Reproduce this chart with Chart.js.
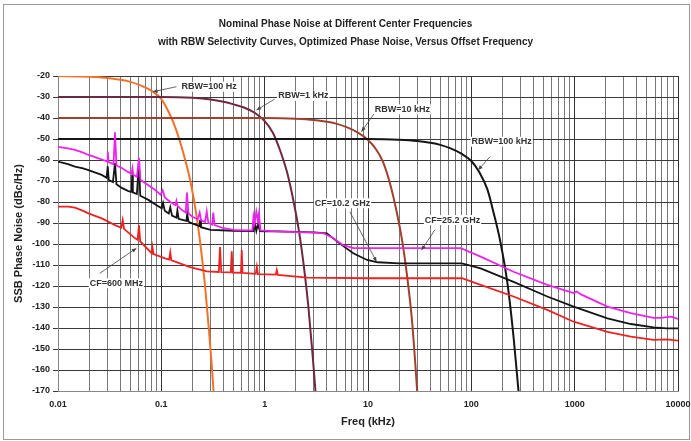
<!DOCTYPE html>
<html>
<head>
<meta charset="utf-8">
<script src="https://cdn.jsdelivr.net/npm/chart.js@4.4.1/dist/chart.umd.min.js"></script>
<style>
  html, body { margin: 0; padding: 0; background: #fff; }
  #wrap { width: 691px; height: 441px; }
</style>
</head>
<body>
<div id="wrap"><canvas id="pn" width="691" height="441"></canvas></div>
<script>
// ---- data (freq in kHz, level in dBc/Hz) ----
const titleLines = [
  "Nominal Phase Noise at Different Center Frequencies",
  "with RBW Selectivity Curves, Optimized Phase Noise, Versus Offset Frequency"
];

const xDecades = [0.01, 0.1, 1, 10, 100, 1000, 10000];
const xTickLabels = ["0.01", "0.1", "1", "10", "100", "1000", "10000"];
const yTicks = [-20, -30, -40, -50, -60, -70, -80, -90, -100, -110, -120, -130, -140, -150, -160, -170];

// RBW selectivity curves
const rbw100Hz = [[0.01,-20],[0.02,-20.3],[0.03,-20.9],[0.04,-21.8],[0.05,-22.8],[0.063,-24.5],[0.08,-27],
  [0.1,-31],[0.12,-38],[0.14,-46],[0.165,-57.5],[0.19,-69.5],[0.215,-84],[0.24,-101],[0.265,-120],
  [0.29,-142],[0.3,-151],[0.31,-160],[0.32,-170]];
const rbw1kHz = [[0.01,-30],[0.1,-30],[0.2,-30.4],[0.3,-31.2],[0.4,-32.3],[0.5,-33.5],[0.63,-35],[0.8,-37.5],
  [1,-41.5],[1.2,-47],[1.4,-55],[1.65,-66],[1.9,-79.5],[2.15,-94],[2.4,-111],[2.65,-130],[2.9,-152],
  [3.0,-161],[3.1,-170]];
const rbw10kHz = [[0.01,-40],[1,-40],[2,-40.3],[3,-40.9],[4,-41.8],[5,-42.8],[6.3,-44.5],[8,-47],
  [10,-50.5],[12,-55],[14,-61],[16.5,-72],[19,-85],[21.5,-99],[24,-116],[26.5,-135],[28.5,-155],[29.9,-170]];
const rbw100kHz = [[0.01,-50],[10,-50],[20,-50.3],[30,-50.9],[40,-51.8],[50,-52.8],[63,-54.5],[80,-57],
  [100,-60.5],[120,-66],[143,-74],[164,-85],[192,-99.5],[224,-119],[257,-145],[286,-170]];

// phase noise at the three centre frequencies
const cf25GHz = [[0.01,-53.7],[0.0125,-54.5],[0.0146,-55.2],[0.0175,-56.5],[0.0197,-57.6],[0.0225,-58.5],
  [0.0246,-59.2],[0.0275,-60],[0.0298,-60.6],[0.0303,-56],[0.0309,-61],[0.0345,-62],[0.0356,-46.8],
  [0.0368,-62.6],[0.0414,-63.8],[0.048,-65.8],[0.0515,-66.5],[0.0525,-64],[0.0535,-67],[0.058,-68],
  [0.0608,-59],[0.0628,-69.5],[0.0697,-71],[0.08,-73],[0.0873,-74.3],[0.098,-76.5],[0.103,-74.5],
  [0.108,-77.8],[0.122,-80],[0.137,-81.5],[0.14,-79.5],[0.144,-82],[0.16,-84],[0.172,-85],[0.177,-75.5],
  [0.183,-85.5],[0.2,-87],[0.225,-88.2],[0.235,-85],[0.243,-88.8],[0.265,-89.5],[0.275,-84.5],[0.285,-90],
  [0.31,-90.8],[0.318,-85],[0.327,-91],[0.4,-92.5],[0.5,-93.3],[0.7,-93.5],[0.76,-93.5],[0.78,-87],
  [0.8,-90],[0.83,-84.6],[0.86,-89],[0.88,-85.5],[0.91,-93.5],[1,-93.6],[1.4,-94.1],[2,-94.3],[3,-94.6],
  [3.7,-94.9],[4.6,-97.1],[5.7,-100.5],[7.2,-101.9],[10,-102],[30,-102],[79,-102],[123,-106],[256,-113.2],
  [543,-119.5],[977,-123.4],[1050,-122.6],[1150,-124],[2075,-129.8],[3494,-132.9],[5800,-135.2],
  [6800,-135.2],[8600,-134.6],[10000,-135.7]];
const cf10GHz = [[0.01,-60.8],[0.0125,-62],[0.0146,-63.2],[0.0175,-64],[0.0197,-64.8],[0.023,-66],
  [0.0265,-67.1],[0.0295,-68.5],[0.0303,-63],[0.031,-69.5],[0.034,-70.5],[0.0356,-61.5],[0.0368,-71.5],
  [0.0414,-73.3],[0.048,-74.8],[0.0515,-75.2],[0.0522,-67],[0.053,-75.4],[0.058,-76.2],[0.0607,-61],
  [0.0625,-77],[0.075,-79],[0.09,-81.5],[0.101,-83],[0.104,-80.5],[0.108,-84.2],[0.118,-85.5],[0.122,-82.5],
  [0.127,-86.5],[0.14,-87.5],[0.143,-84],[0.147,-88],[0.16,-88.5],[0.175,-89],[0.178,-85.5],[0.183,-89.3],
  [0.19,-89.8],[0.235,-91.5],[0.237,-88.5],[0.242,-92],[0.3,-93.3],[0.5,-93.7],[0.78,-93.8],[0.8,-90],
  [0.83,-93.8],[0.86,-90.5],[0.9,-93.9],[1,-94],[1.4,-94],[2,-94.2],[3,-94.5],[4,-94.9],[5.3,-99.7],
  [7.2,-104.4],[9.8,-107.6],[12.4,-108.7],[20,-109.2],[81,-109.2],[123,-111.6],[256,-118],[543,-125],
  [977,-129.8],[2075,-135.4],[3500,-138.1],[5800,-139.7],[7800,-140.2],[10000,-140.2]];
const cf600MHz = [[0.01,-82.2],[0.0126,-82.2],[0.0146,-82.7],[0.0175,-84.2],[0.0197,-85.4],[0.0265,-87.8],
  [0.0356,-91],[0.041,-92.3],[0.0423,-88.6],[0.0436,-92.8],[0.0557,-97.3],[0.059,-98],[0.0607,-91],
  [0.0625,-98.8],[0.0807,-104.4],[0.082,-101.5],[0.084,-104.8],[0.109,-106.8],[0.119,-107.4],[0.122,-104],
  [0.125,-107.8],[0.136,-108.4],[0.19,-111],[0.276,-113],[0.36,-113.3],[0.37,-101.5],[0.38,-113.4],
  [0.47,-113.5],[0.48,-103.5],[0.49,-113.6],[0.59,-113.7],[0.6,-102.9],[0.61,-113.8],[0.82,-114.2],
  [0.84,-110.8],[0.86,-114.3],[1.28,-114.6],[1.31,-112.4],[1.34,-114.7],[2.6,-116],[10,-116.3],[81,-116.3],
  [123,-119.5],[256,-125],[543,-131.4],[977,-137],[2075,-141.8],[3500,-144.1],[5800,-145.7],
  [7800,-145.4],[10000,-146]];

// callout labels: text anchor (left, middle) and leader line, all in data coords
const callouts = [
  { text: "RBW=100 Hz",  at: [0.157, -25.1], from: [0.140, -25.1], to: [0.083, -27.5] },
  { text: "RBW=1 kHz",   at: [1.35, -29.5],  from: [1.25, -31],    to: [0.833, -36.2] },
  { text: "RBW=10 kHz",  at: [11.6, -35.9],  from: [11.4, -38.1],  to: [8.65, -46.5] },
  { text: "RBW=100 kHz", at: [100.4, -51.3], from: [151.8, -58.4], to: [116.4, -64.8] },
  { text: "CF=10.2 GHz", at: [3.06, -80.6],  from: [6.67, -84.6],  to: [12.1, -108.4] },
  { text: "CF=25.2 GHz", at: [35.5, -88.6],  from: [44.3, -93.3],  to: [33, -102.9] },
  { text: "CF=600 MHz",  at: [0.0203, -118.7], from: [0.0253, -114], to: [0.0574, -102] }
];

const pts = arr => arr.map(p => ({ x: p[0], y: p[1] }));

// minor + major vertical grid positions
const xGrid = [];
xDecades.forEach((d, i) => {
  if (i === xDecades.length - 1) { xGrid.push(d); return; }
  for (let m = 1; m <= 9; m++) xGrid.push(m === 1 ? d : +(m * d).toPrecision(3));
});

const frame = {
  id: "frame",
  beforeDraw(chart) {
    const c = chart.ctx;
    c.save();
    c.fillStyle = "#fff";
    c.fillRect(0, 0, chart.width, chart.height);
    c.strokeStyle = "#9a9a9a";
    c.lineWidth = 1;
    c.strokeRect(3.5, 4.5, 686, 435);
    c.restore();
  }
};

const calloutPlugin = {
  id: "callouts",
  afterDatasetsDraw(chart) {
    const c = chart.ctx, xs = chart.scales.x, ys = chart.scales.y;
    c.save();
    c.font = "bold 9px Arial, 'Liberation Sans', sans-serif";
    c.textBaseline = "middle";
    callouts.forEach(k => {
      const x1 = xs.getPixelForValue(k.from[0]), y1 = ys.getPixelForValue(k.from[1]);
      const x2 = xs.getPixelForValue(k.to[0]), y2 = ys.getPixelForValue(k.to[1]);
      const tx = xs.getPixelForValue(k.at[0]), ty = ys.getPixelForValue(k.at[1]);
      const w = c.measureText(k.text).width;
      c.fillStyle = "#fff";
      c.fillRect(tx - 1, ty - 5, w + 2, 10);
      c.fillStyle = "#333";
      c.fillText(k.text, tx, ty);
      c.strokeStyle = "#444";
      c.lineWidth = 0.8;
      c.beginPath(); c.moveTo(x1, y1); c.lineTo(x2, y2); c.stroke();
      const a = Math.atan2(y2 - y1, x2 - x1);
      c.fillStyle = "#444";
      c.beginPath();
      c.moveTo(x2, y2);
      c.lineTo(x2 - 5 * Math.cos(a - 0.4), y2 - 5 * Math.sin(a - 0.4));
      c.lineTo(x2 - 5 * Math.cos(a + 0.4), y2 - 5 * Math.sin(a + 0.4));
      c.closePath(); c.fill();
    });
    c.restore();
  }
};

const noise = (data, color) => ({
  data: pts(data), borderColor: color, borderWidth: 1.8, pointRadius: 0, tension: 0
});
const rbw = (data, color) => ({
  data: pts(data), borderColor: color, borderWidth: 2, pointRadius: 0,
  cubicInterpolationMode: "monotone"
});

new Chart(document.getElementById("pn"), {
  type: "line",
  data: {
    datasets: [
      noise(cf600MHz, "#ee2222"),
      noise(cf25GHz, "#ee22ee"),
      noise(cf10GHz, "#141414"),
      rbw(rbw100kHz, "#151515"),
      rbw(rbw10kHz, "#a0402e"),
      rbw(rbw1kHz, "#6e2840"),
      rbw(rbw100Hz, "#f2722a")
    ]
  },
  options: {
    responsive: false,
    animation: false,
    devicePixelRatio: 1,
    layout: { padding: { left: 0, right: 0, top: 0, bottom: 0 } },
    plugins: {
      legend: { display: false },
      tooltip: { enabled: false },
      title: {
        display: true,
        text: titleLines,
        color: "#222",
        font: { family: "Arial, 'Liberation Sans', sans-serif", size: 10, weight: "bold", lineHeight: 1.8 },
        padding: { top: 15, bottom: 25 }
      }
    },
    scales: {
      x: {
        type: "logarithmic",
        min: 0.01,
        max: 10000,
        afterBuildTicks: s => { s.ticks = xGrid.map(v => ({ value: v })); },
        afterFit: s => { s.height = 50; s.paddingLeft = 0; s.paddingRight = 13; },
        ticks: {
          autoSkip: false, maxRotation: 0, minRotation: 0, padding: 8,
          color: "#222",
          font: { family: "Arial, 'Liberation Sans', sans-serif", size: 9, weight: "bold" },
          callback: v => { const i = xDecades.indexOf(v); return i >= 0 ? xTickLabels[i] : ""; }
        },
        grid: {
          drawTicks: false,
          lineWidth: 1,
          color: ctx => (ctx.tick && xDecades.includes(ctx.tick.value)) ? "#333" : "#777"
        },
        border: { color: "#888" },
        title: {
          display: true, text: "Freq (kHz)", color: "#222",
          font: { family: "Arial, 'Liberation Sans', sans-serif", size: 11, weight: "bold" },
          padding: { top: 0, bottom: 12 }
        }
      },
      y: {
        type: "linear",
        min: -170,
        max: -20,
        afterBuildTicks: s => { s.ticks = yTicks.map(v => ({ value: v })); },
        afterFit: s => { s.width = 58; },
        ticks: {
          padding: 3, color: "#222",
          font: { family: "Arial, 'Liberation Sans', sans-serif", size: 9, weight: "bold" }
        },
        grid: { color: "#3a3a3a", lineWidth: 1, tickLength: 5 },
        border: { color: "#888" },
        title: {
          display: true, text: "SSB Phase Noise (dBc/Hz)", color: "#222",
          font: { family: "Arial, 'Liberation Sans', sans-serif", size: 11, weight: "bold" },
          padding: { top: 12, bottom: 0 }
        }
      }
    }
  },
  plugins: [frame, calloutPlugin]
});
</script>
</body>
</html>
